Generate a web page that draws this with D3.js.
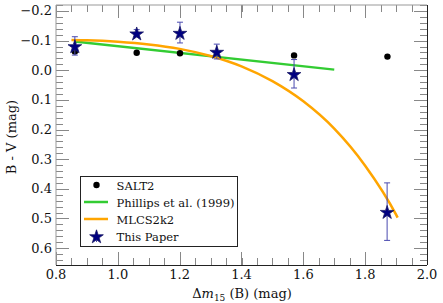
<!DOCTYPE html>
<html><head><meta charset="utf-8">
<script src="https://cdn.jsdelivr.net/npm/d3@7"></script>
<style>body{margin:0;background:#fff}svg{display:block}text{font-family:"DejaVu Serif","Liberation Serif",serif}</style>
</head><body>
<svg id="c" width="443" height="303"></svg>
<script>
// data
const saltX = [0.861, 1.061, 1.201, 1.570, 1.872];
const saltY = [-0.063, -0.059, -0.057, -0.050, -0.046];
const paperX = [0.861, 1.061, 1.201, 1.320, 1.570, 1.871];
const paperY = [-0.082, -0.125, -0.127, -0.063, 0.012, 0.477];
const paperErr = [0.031, 0.012, 0.035, 0.025, 0.048, 0.097];
const phillipsX = [0.86, 1.70];
const phillipsY = [-0.097, -0.002];
const mlcsX = [0.85, 0.90, 1.00, 1.10, 1.20, 1.30, 1.40, 1.50, 1.60, 1.70, 1.80, 1.90, 1.905];
const mlcsY = [-0.102, -0.101, -0.096, -0.087, -0.072, -0.048, -0.013, 0.037, 0.105, 0.197, 0.322, 0.487, 0.497];
const xTicks = [0.8, 1.0, 1.2, 1.4, 1.6, 1.8, 2.0];
const yTicks = [-0.2, -0.1, 0.0, 0.1, 0.2, 0.3, 0.4, 0.5, 0.6];
const legendLabels = ["SALT2", "Phillips et al. (1999)", "MLCS2k2", "This Paper"];

const L = 56, R = 427, T = 5, B = 265;
const svg = d3.select("#c");
const x = d3.scaleLinear().domain([0.8, 2.0]).range([L, R]);
const y = d3.scaleLinear().domain([-0.22, 0.657]).range([T, B]);

// minor ticks
const xMinor = d3.range(0.8, 2.0001, 0.05);
const yMinor = d3.range(-0.22, 0.6571, 0.02);
const tickCol = "#888";
const g = svg.append("g");
function tk(x1, y1, x2, y2) {
  g.append("line").attr("x1", x1).attr("y1", y1).attr("x2", x2).attr("y2", y2)
    .attr("stroke", tickCol).attr("stroke-width", 1);
}
xMinor.forEach(v => { const px = Math.round(x(v)) + 0.5; tk(px, B, px, B - 7); tk(px, T, px, T + 7); });
xTicks.forEach(v => { const px = Math.round(x(v)) + 0.5; tk(px, B, px, B - 13); tk(px, T, px, T + 13); });
yMinor.forEach(v => { const py = Math.round(y(v)) + 0.5; tk(L, py, L + 7, py); tk(R, py, R - 7, py); });
yTicks.forEach(v => { const py = Math.round(y(v)) + 0.5; tk(L, py, L + 13, py); tk(R, py, R - 13, py); });

// spines
g.append("line").attr("x1", L).attr("x2", L).attr("y1", T).attr("y2", B).attr("stroke", "#999");
g.append("line").attr("x1", L).attr("x2", R).attr("y1", T).attr("y2", T).attr("stroke", "#999");
g.append("line").attr("x1", R + 0.5).attr("x2", R + 0.5).attr("y1", T).attr("y2", B).attr("stroke", "#222");
g.append("line").attr("x1", L).attr("x2", R).attr("y1", B + 0.5).attr("y2", B + 0.5).attr("stroke", "#222");

// tick labels
const fmt = v => (v < 0 ? "\u2212" : "") + Math.abs(v).toFixed(1);
xTicks.forEach(v => svg.append("text").attr("x", x(v)).attr("y", 279)
  .attr("text-anchor", "middle").attr("font-size", 13).attr("fill", "#111").text(fmt(v)));
yTicks.forEach(v => svg.append("text").attr("x", 52).attr("y", y(v) + 4.5)
  .attr("text-anchor", "end").attr("font-size", 13).attr("fill", "#111").text(fmt(v)));

// axis labels
const xl = svg.append("text").attr("x", 242).attr("y", 298).attr("text-anchor", "middle")
  .attr("font-size", 13).attr("fill", "#111");
xl.append("tspan").text("\u0394");
xl.append("tspan").attr("font-style", "italic").text("m");
xl.append("tspan").attr("font-size", 9).attr("dy", 3).text("15");
xl.append("tspan").attr("dy", -3).text(" (B) (mag)");
svg.append("text").attr("transform", "translate(16,137) rotate(-90)").attr("text-anchor", "middle")
  .attr("font-size", 13).attr("fill", "#111").text("B - V (mag)");

// clip
svg.append("clipPath").attr("id", "clip").append("rect").attr("x", L).attr("y", T).attr("width", R - L).attr("height", B - T);
const pg = svg.append("g").attr("clip-path", "url(#clip)");

const line = d3.line().curve(d3.curveMonotoneX);
pg.append("path").attr("d", line(phillipsX.map((v, i) => [x(v), y(phillipsY[i])])))
  .attr("fill", "none").attr("stroke", "#33cc33").attr("stroke-width", 2.5);
pg.append("path").attr("d", line(mlcsX.map((v, i) => [x(v), y(mlcsY[i])])))
  .attr("fill", "none").attr("stroke", "#ffa500").attr("stroke-width", 2.5);

saltX.forEach((v, i) => pg.append("circle").attr("cx", x(v)).attr("cy", y(saltY[i])).attr("r", 3.2).attr("fill", "#000"));

const errCol = "#4a4ab0";
paperX.forEach((v, i) => {
  const px = x(v), y1 = y(paperY[i] - paperErr[i]), y2 = y(paperY[i] + paperErr[i]);
  pg.append("line").attr("x1", px).attr("x2", px).attr("y1", y1).attr("y2", y2).attr("stroke", errCol).attr("stroke-width", 1);
  [y1, y2].forEach(yy => pg.append("line").attr("x1", px - 3).attr("x2", px + 3).attr("y1", yy).attr("y2", yy).attr("stroke", errCol).attr("stroke-width", 1));
});
const star = d3.symbol().type(d3.symbolStar).size(58);
paperX.forEach((v, i) => pg.append("path").attr("d", star())
  .attr("transform", `translate(${x(v)},${y(paperY[i]) + 1})`)
  .attr("fill", "#000080").attr("stroke", "#1a1a66").attr("stroke-width", 0.8));

// legend
const lg = svg.append("g");
lg.append("rect").attr("x", 80.5).attr("y", 176.5).attr("width", 157).attr("height", 70)
  .attr("fill", "#fff").attr("stroke", "#222").attr("stroke-width", 1);
const rows = [185, 202, 219, 236];
lg.append("circle").attr("cx", 96.5).attr("cy", rows[0]).attr("r", 3.2).attr("fill", "#000");
lg.append("line").attr("x1", 84).attr("x2", 108).attr("y1", rows[1]).attr("y2", rows[1]).attr("stroke", "#33cc33").attr("stroke-width", 2.5);
lg.append("line").attr("x1", 84).attr("x2", 108).attr("y1", rows[2]).attr("y2", rows[2]).attr("stroke", "#ffa500").attr("stroke-width", 2.5);
lg.append("line").attr("x1", 96.5).attr("x2", 96.5).attr("y1", rows[3] - 6).attr("y2", rows[3] + 6).attr("stroke", errCol);
lg.append("path").attr("d", star()).attr("transform", `translate(96.5,${rows[3] + 1})`)
  .attr("fill", "#000080").attr("stroke", "#1a1a66").attr("stroke-width", 0.8);
legendLabels.forEach((t, i) => lg.append("text").attr("x", 116.5).attr("y", rows[i] + 4.5)
  .attr("font-size", 11.5).attr("fill", "#111").text(t));
</script>
</body></html>
